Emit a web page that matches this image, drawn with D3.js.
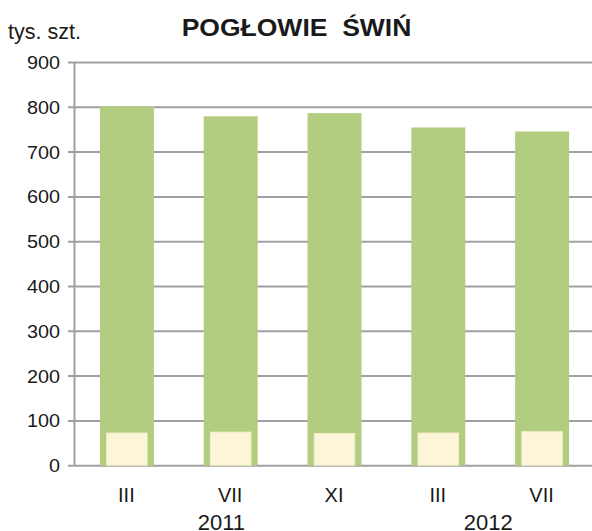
<!DOCTYPE html>
<html>
<head>
<meta charset="utf-8">
<script src="https://cdn.jsdelivr.net/npm/d3@7"></script>
<style>
  body { margin: 0; background: #fff; }
  text { font-family: "Liberation Sans", Arial, sans-serif; fill: #1a1a1a; }
</style>
</head>
<body>
<div class="chart"></div>
<script>
(function() {
  'use strict';

  const WIDTH = 592;
  const HEIGHT = 531;

  // Data
  const MONTHS = ['III', 'VII', 'XI', 'III', 'VII'];
  const TOTAL = [802, 780, 787, 755, 746];
  const INNER = [74, 76, 73, 74, 77];
  const YEARS = ['2011', '2012'];
  const YEAR_FIRST = [0, 3];
  const YEAR_LAST = [2, 4];
  const Y_TICKS = [0, 100, 200, 300, 400, 500, 600, 700, 800, 900];

  const svg = d3.select('.chart')
    .append('svg')
    .attr('width', WIDTH)
    .attr('height', HEIGHT);

  const x = d3.scaleBand()
    .domain(d3.range(MONTHS.length))
    .range([75, 594])
    .paddingInner(0)
    .paddingOuter(0);

  const y = d3.scaleLinear()
    .domain([0, 900])
    .range([465.7, 62.5]);

  // Gridlines
  svg.append('g')
    .selectAll('line')
    .data(Y_TICKS)
    .enter()
    .append('line')
    .attr('x1', 68)
    .attr('x2', WIDTH)
    .attr('y1', d => y(d))
    .attr('y2', d => y(d))
    .attr('stroke', '#a0a0a4')
    .attr('stroke-width', 2);

  // Y axis line
  svg.append('line')
    .attr('x1', 74.5).attr('x2', 74.5)
    .attr('y1', y(900)).attr('y2', y(0))
    .attr('stroke', '#a0a0a4')
    .attr('stroke-width', 2);

  // Tick labels (slightly wide glyphs in the original)
  svg.append('g')
    .selectAll('text')
    .data(Y_TICKS)
    .enter()
    .append('text')
    .attr('transform', d => 'translate(60,' + (y(d) + 6.4) + ') scale(1.1,1)')
    .attr('text-anchor', 'end')
    .attr('font-size', 18)
    .text(d => d);

  const bw = x.bandwidth();

  // Total bars
  svg.append('g')
    .selectAll('rect')
    .data(TOTAL)
    .enter()
    .append('rect')
    .attr('x', (d, i) => x(i) + bw * 0.24)
    .attr('width', bw * 0.52)
    .attr('y', d => y(d))
    .attr('height', d => y(0) - y(d))
    .attr('fill', '#b3cd80');

  // Inner bars
  svg.append('g')
    .selectAll('rect')
    .data(INNER)
    .enter()
    .append('rect')
    .attr('x', (d, i) => x(i) + bw * 0.3 + 0.5)
    .attr('width', bw * 0.4 - 1)
    .attr('y', d => y(d) + 0.5)
    .attr('height', d => y(0) - y(d) - 1)
    .attr('fill', '#fdf5d7')
    .attr('stroke', '#f3ecc8')
    .attr('stroke-width', 1);

  // Month labels
  svg.append('g')
    .selectAll('text')
    .data(MONTHS)
    .enter()
    .append('text')
    .attr('x', (d, i) => x(i) + bw / 2 - 0.5)
    .attr('y', 501.5)
    .attr('text-anchor', 'middle')
    .attr('font-size', 20)
    .text(d => d);

  // Year labels
  svg.append('g')
    .selectAll('text')
    .data(YEARS)
    .enter()
    .append('text')
    .attr('x', (d, i) => i === 0
      ? x(YEAR_FIRST[i]) + bw * 1.41
      : (x(YEAR_FIRST[i]) + x(YEAR_LAST[i]) + bw) / 2 - 2)
    .attr('y', 529.5)
    .attr('text-anchor', 'middle')
    .attr('font-size', 22)
    .text(d => d);

  // Unit and title
  svg.append('text')
    .attr('x', 8)
    .attr('y', 39.3)
    .attr('font-size', 21.5)
    .text('tys. szt.');

  svg.append('text')
    .attr('transform', 'translate(296.5,35.5) scale(1.105,1)')
    .attr('text-anchor', 'middle')
    .attr('font-size', 24)
    .attr('font-weight', 'bold')
    .attr('xml:space', 'preserve')
    .style('white-space', 'pre')
    .text('POGŁOWIE  ŚWIŃ');
})();
</script>
</body>
</html>
